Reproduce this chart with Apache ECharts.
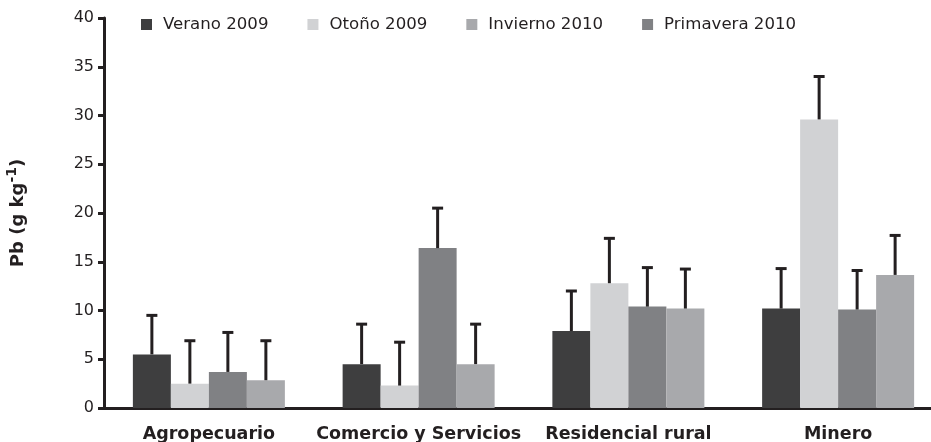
<!DOCTYPE html>
<html>
<head>
<meta charset="utf-8">
<script src="https://cdn.jsdelivr.net/npm/echarts@6/dist/echarts.min.js"></script>
<style>
  html, body { margin: 0; padding: 0; background: #fff; }
  #main { width: 931px; height: 442px; }
</style>
</head>
<body>
<div id="main"></div>
<script>
// categorias y series
var categories = ["Agropecuario", "Comercio y Servicios", "Residencial rural", "Minero"];
var legendNames = ["Verano 2009", "Otoño 2009", "Invierno 2010", "Primavera 2010"];

// orden de las barras dentro de cada grupo
var barNames = ["Verano 2009", "Otoño 2009", "Primavera 2010", "Invierno 2010"];
var verano2009 = [5.5, 4.5, 7.9, 10.2];
var otono2009 = [2.5, 2.3, 12.8, 29.6];
var primavera2010 = [3.7, 16.4, 10.4, 10.1];
var invierno2010 = [2.85, 4.5, 10.2, 13.65];

// desviacion (solo barra superior)
var verano2009Sd = [4.0, 4.1, 4.1, 4.1];
var otono2009Sd = [4.4, 4.45, 4.6, 4.4];
var primavera2010Sd = [4.05, 4.1, 4.0, 4.0];
var invierno2010Sd = [4.05, 4.1, 4.05, 4.05];

var yTicks = [0, 5, 10, 15, 20, 25, 30, 35, 40];

var values = [verano2009, otono2009, primavera2010, invierno2010];
var sds = [verano2009Sd, otono2009Sd, primavera2010Sd, invierno2010Sd];
var colors = ["#3e3e3f", "#d1d2d4", "#808184", "#a8a9ac"];
var barW = 38;
var font = "DejaVu Sans, Liberation Sans, Arial, sans-serif";

var errData = [];
values.forEach(function (arr, k) {
  arr.forEach(function (v, i) {
    errData.push([i, k, v, v + sds[k][i]]);
  });
});

var myChart = echarts.init(document.getElementById("main"));

var series = values.map(function (arr, k) {
  return {
    name: barNames[k],
    type: "bar",
    data: arr,
    barWidth: barW,
    barGap: "0%",
    itemStyle: { color: colors[k] }
  };
});

// barras de error
series.push({
  name: "error",
  type: "custom",
  data: errData,
  z: 5,
  renderItem: function (params, api) {
    var cat = api.value(0);
    var k = api.value(1);
    var base = api.coord([cat, api.value(2)]);
    var top = api.coord([cat, api.value(3)]);
    var x = base[0] + (k - 1.5) * barW;
    var st = { stroke: "#231f20", lineWidth: 3 };
    return {
      type: "group",
      children: [
        { type: "line", shape: { x1: x, y1: base[1], x2: x, y2: top[1] }, style: st },
        { type: "line", shape: { x1: x - 5.5, y1: top[1], x2: x + 5.5, y2: top[1] }, style: st }
      ]
    };
  }
});

myChart.setOption({
  animation: false,
  textStyle: { fontFamily: font },
  legend: {
    data: legendNames,
    left: 136,
    top: 11,
    icon: "rect",
    itemWidth: 11,
    itemHeight: 11,
    itemGap: 39,
    textStyle: { fontSize: 16.6, color: "#231f20", padding: [0, 0, 0, 6] }
  },
  grid: { left: 104, width: 839, top: 18, bottom: 34, outerBoundsMode: "none" },
  xAxis: {
    type: "category",
    data: categories,
    axisLine: { lineStyle: { color: "#231f20", width: 3 } },
    axisTick: { show: false },
    axisLabel: { fontSize: 17.5, fontWeight: "bold", color: "#231f20", margin: 17, interval: 0 }
  },
  yAxis: {
    type: "value",
    min: yTicks[0],
    max: yTicks[yTicks.length - 1],
    interval: 5,
    name: "{b|Pb (g kg}{s|-1}{b|)}",
    nameLocation: "middle",
    nameGap: 77,
    nameTextStyle: {
      rich: {
        b: { fontSize: 18, fontWeight: "bold", color: "#231f20", fontFamily: font, lineHeight: 22, verticalAlign: "bottom" },
        s: { fontSize: 14, fontWeight: "bold", color: "#231f20", fontFamily: font, lineHeight: 22, verticalAlign: "top" }
      }
    },
    axisLine: { show: true, lineStyle: { color: "#231f20", width: 3 } },
    axisTick: { show: true, length: 6, lineStyle: { color: "#231f20", width: 3 } },
    axisLabel: { fontSize: 16, color: "#231f20", margin: 10 },
    splitLine: { show: false }
  },
  series: series
});

window.onresize = function () {
  myChart.resize();
};
</script>
</body>
</html>
